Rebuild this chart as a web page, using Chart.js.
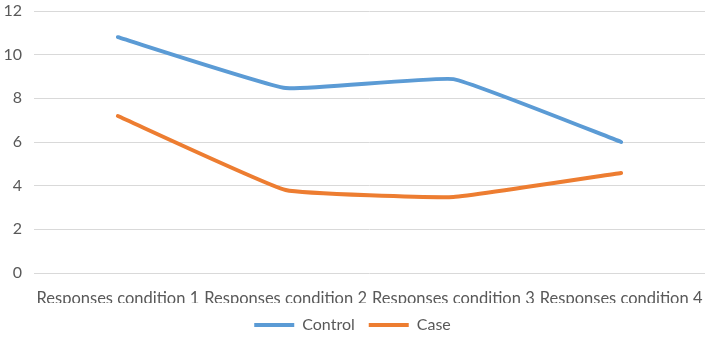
<!DOCTYPE html>
<html>
<head>
<meta charset="utf-8">
<script src="https://cdn.jsdelivr.net/npm/chart.js@4"></script>
<style>
  html, body { margin: 0; padding: 0; background: #fff; }
  #wrap { width: 709px; height: 347px; }
</style>
</head>
<body>
<div id="wrap"><canvas id="chart"></canvas></div>
<script>
// values
const categories = ['Responses condition 1', 'Responses condition 2', 'Responses condition 3', 'Responses condition 4'];
const controlValues = [10.8, 8.47, 8.88, 6.0];
const caseValues = [7.19, 3.8, 3.48, 4.58];

const textColor = '#595959';
const gridColor = '#d9d9d9';

Chart.defaults.font.family = 'Lato, "Open Sans", sans-serif';
Chart.defaults.color = textColor;

const ctx = document.getElementById('chart').getContext('2d');
const lineChart = new Chart(ctx, {
    type: 'line',
    data: {
        labels: categories,
        datasets: [
            {
                label: 'Control',
                data: controlValues,
                borderColor: '#5b9bd5',
                backgroundColor: '#5b9bd5',
                borderWidth: 4,
                borderCapStyle: 'round',
                pointRadius: 0,
                pointStyle: 'line',
                tension: 0.1,
                fill: false
            },
            {
                label: 'Case',
                data: caseValues,
                borderColor: '#ed7d31',
                backgroundColor: '#ed7d31',
                borderWidth: 4,
                borderCapStyle: 'round',
                pointRadius: 0,
                pointStyle: 'line',
                tension: 0.1,
                fill: false
            }
        ]
    },
    options: {
        responsive: true,
        maintainAspectRatio: false,
        animation: false,
        layout: { padding: { top: 11, left: 0, right: 4, bottom: 4 } },
        plugins: {
            legend: {
                position: 'bottom',
                labels: {
                    usePointStyle: true,
                    pointStyleWidth: 40,
                    padding: 14,
                    font: { size: 16 },
                    color: textColor
                }
            },
            tooltip: { enabled: false }
        },
        scales: {
            x: {
                offset: true,
                grid: { display: false },
                border: { display: false },
                ticks: {
                    font: { size: 16.5 },
                    maxRotation: 0,
                    autoSkip: false,
                    padding: 8
                },
                afterFit: (scale) => {
                    scale.height = 30;
                    scale.paddingLeft = 0;
                    scale.paddingRight = 0;
                }
            },
            y: {
                min: 0,
                max: 12,
                ticks: { stepSize: 2, font: { size: 16 }, padding: 12 },
                grid: { color: gridColor, lineWidth: 1, drawTicks: false },
                border: { display: false },
                afterFit: (scale) => {
                    scale.width = 34;
                    scale.paddingTop = 0;
                    scale.paddingBottom = 0;
                }
            }
        }
    }
});
</script>
</body>
</html>
